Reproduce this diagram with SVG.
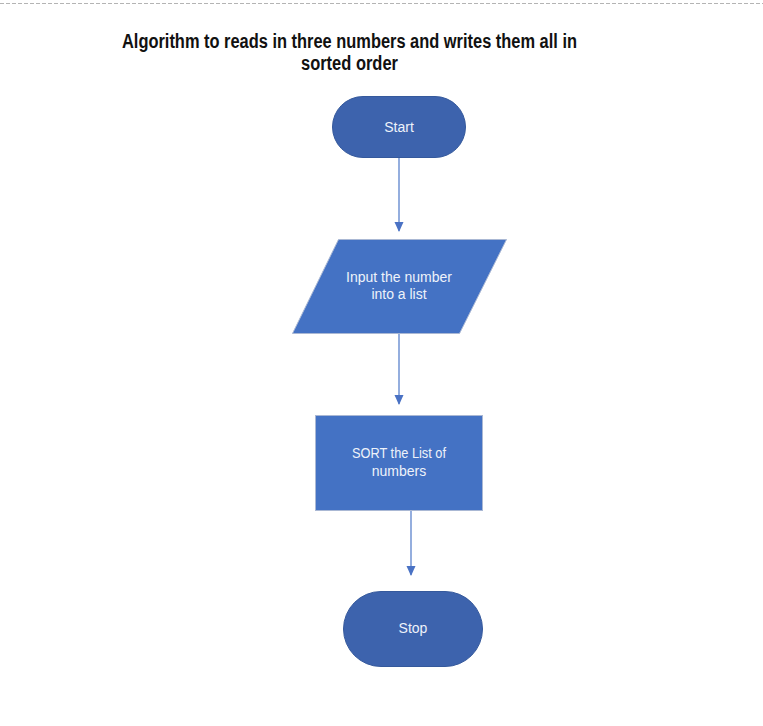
<svg xmlns="http://www.w3.org/2000/svg" width="763" height="726" viewBox="0 0 763 726">
<style>
.lbl{font-family:"Liberation Sans",Arial,sans-serif;font-size:14px;fill:#eef2fa;text-anchor:middle}
.title{font-family:"Liberation Sans Narrow","Liberation Sans",Arial,sans-serif;font-size:20px;font-weight:bold;fill:#111;text-anchor:middle}
.conn{stroke:#5b83cc;stroke-width:1.3;fill:none;marker-end:url(#ah)}
.term{fill:#3d63ad;stroke:#35599c;stroke-width:1}
.proc{fill:#4472c4;stroke:#aab8d4;stroke-width:1}
</style>
<defs>
<marker id="ah" markerWidth="10" markerHeight="10" refX="9" refY="5" orient="auto" markerUnits="userSpaceOnUse">
<path d="M0,0.5 L10,5 L0,9.5 z" fill="#4a72c4"/>
</marker>
</defs>
<rect width="763" height="726" fill="#ffffff"/>
<line x1="0" y1="3.5" x2="763" y2="3.5" stroke="#b4b4b4" stroke-width="1" stroke-dasharray="4,2"/>
<g id="title">
<text class="title" x="349.5" y="48" textLength="455" lengthAdjust="spacingAndGlyphs">Algorithm to reads in three numbers and writes them all in</text>
<text class="title" x="349.5" y="70" textLength="97" lengthAdjust="spacingAndGlyphs">sorted order</text>
</g>
<g id="connectors">
<line class="conn" x1="399" y1="158" x2="399" y2="231"/>
<line class="conn" x1="399" y1="333" x2="399" y2="404"/>
<line class="conn" x1="411" y1="511" x2="411" y2="575"/>
</g>
<g id="start">
<rect class="term" x="332.5" y="96.5" width="133" height="61" rx="30.5"/>
<text class="lbl" x="399" y="132">Start</text>
</g>
<g id="input">
<polygon class="proc" points="338.5,239.5 506.5,239.5 459.5,333.5 292.5,333.5"/>
<text class="lbl" x="399" y="282">Input the number</text>
<text class="lbl" x="399" y="299">into a list</text>
</g>
<g id="sort">
<rect class="proc" x="315.5" y="415.5" width="167" height="95"/>
<text class="lbl" x="399" y="458" textLength="94" lengthAdjust="spacingAndGlyphs">SORT the List of</text>
<text class="lbl" x="399" y="476">numbers</text>
</g>
<g id="stop">
<rect class="term" x="343.5" y="591.5" width="139" height="75" rx="37.5"/>
<text class="lbl" x="413" y="633">Stop</text>
</g>
</svg>
